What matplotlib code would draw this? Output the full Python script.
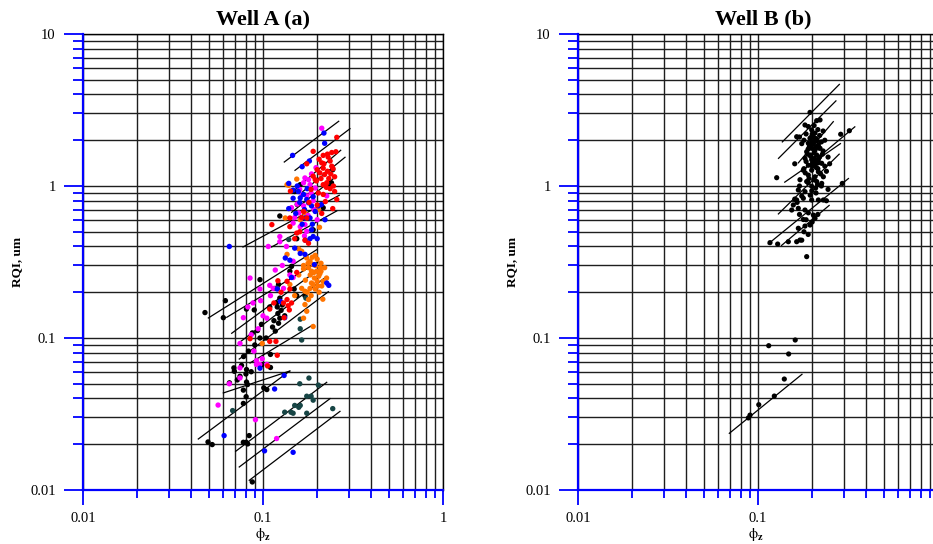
import numpy as np
import matplotlib
matplotlib.use("Agg")
import matplotlib.pyplot as plt
from matplotlib.ticker import LogLocator, NullFormatter, FixedLocator, FixedFormatter

plt.rcParams['font.family'] = ['Liberation Serif', 'DejaVu Serif']
plt.rcParams['mathtext.fontset'] = 'stix'

# ---------------- Well A data (phi_z, RQI) per group ----------------
a_red_phi = [0.257,0.190,0.216,0.228,0.241,0.254,0.175,0.212,0.236,0.241,0.216,0.228,0.207,0.220,0.190,0.216,0.226,0.246,0.236,0.142,0.203,0.216,0.257,0.244,0.168,0.164,0.175,0.141,0.112,0.141,0.154,
             0.200,0.232,0.198,0.250,0.222,0.171,0.179,0.154,0.121,0.136,0.141,0.144,0.138,0.109,0.136,0.130,0.131,0.140,0.0847,0.109,0.118,0.120,0.106,
             0.205,0.230,0.245,0.218,0.195,0.210,0.238,0.225,0.185,0.200,0.250,0.212,0.180,0.160,0.150,0.126,0.115]
a_red_rqi = [2.09,1.69,1.59,1.62,1.66,1.68,1.40,1.42,1.46,1.35,1.31,1.25,1.22,1.19,1.16,1.02,1.05,1.00,0.96,0.925,0.90,0.88,0.815,0.71,0.68,0.62,0.616,0.616,0.557,0.54,0.49,
             1.28,1.12,1.08,1.15,0.79,0.44,0.42,0.27,0.238,0.236,0.21,0.170,0.163,0.155,0.179,0.170,0.136,0.153,0.099,0.095,0.095,0.077,0.0655,
             1.50,1.55,1.30,1.40,1.10,1.12,1.20,0.98,0.95,0.75,0.92,0.66,0.78,0.50,0.45,0.20,0.17]

a_mag_phi = [0.212,0.197,0.171,0.179,0.168,0.1825,0.195,0.226,0.168,0.144,0.158,0.147,0.161,0.171,0.175,0.124,0.186,0.160,0.175,0.190,0.200,0.150,
             0.107,0.124,0.147,0.117,0.141,0.147,0.0847,0.0962,0.109,0.114,0.130,0.097,0.088,0.0824,0.0778,0.100,0.105,0.0745,0.089,0.099,0.092,
             0.0745,0.092,0.096,0.105,0.0745,0.065,0.0563,0.0908,0.119,
             0.185,0.165,0.155,0.178,0.192,0.170,0.135,0.128,0.110,0.094,0.086]
a_mag_rqi = [2.40,1.32,1.13,1.10,1.05,1.02,0.97,0.86,0.74,0.72,0.665,0.57,0.54,0.557,0.503,0.465,1.20,0.95,0.86,0.80,0.60,0.62,
             0.40,0.43,0.32,0.28,0.26,0.25,0.248,0.21,0.222,0.212,0.212,0.176,0.17,0.16,0.136,0.14,0.135,0.092,0.082,0.073,0.071,
             0.0636,0.067,0.067,0.067,0.0546,0.050,0.0362,0.029,0.0218,
             0.90,0.88,0.76,0.64,0.70,0.47,0.40,0.30,0.19,0.115,0.105]

a_blue_phi = [0.218,0.220,0.146,0.181,0.165,0.139,0.147,0.157,0.147,0.161,0.175,0.179,0.186,0.211,0.203,0.139,0.171,0.1825,0.221,0.186,0.190,0.170,0.195,0.160,0.200,
              0.065,0.1825,0.133,0.141,0.161,0.171,0.193,0.226,0.232,0.144,0.125,0.132,0.120,
              0.0962,0.131,0.116,0.0608,0.102,0.147,
              0.155,0.168,0.176,0.190,0.152,0.165,0.188,0.172,0.150]
a_blue_rqi = [2.23,1.91,1.59,1.46,1.34,1.04,0.94,0.92,0.83,0.835,0.815,0.775,0.74,0.755,0.74,0.71,0.616,0.616,0.60,0.515,0.465,0.70,0.68,0.78,0.45,
              0.40,0.45,0.336,0.325,0.36,0.355,0.304,0.23,0.222,0.25,0.174,0.136,0.21,
              0.0633,0.0567,0.0462,0.0228,0.0181,0.0177,
              1.00,0.88,0.96,0.85,0.66,0.56,0.56,0.44,0.39]

a_orange_phi = [0.154,0.139,0.203,0.161,0.171,0.133,0.206,0.136,
                0.136,0.158,0.164,0.175,0.1825,0.190,0.179,0.168,0.186,0.1987,0.207,0.210,0.193,0.200,0.190,0.1825,0.171,0.164,0.2155,0.2255,0.141,0.179,0.171,0.175,0.168,0.099,
                0.200,0.210,0.220,0.195,0.185,0.205,0.215,0.190,
                0.178,0.188,0.196,0.204,0.212,0.183,0.172,0.192,0.202,0.168,0.158,0.150,0.176,0.186,0.195,0.208]
a_orange_rqi = [1.11,1.01,0.70,0.60,0.665,0.616,0.535,1.02,
                0.355,0.385,0.372,0.336,0.32,0.304,0.29,0.285,0.275,0.275,0.265,0.275,0.248,0.236,0.225,0.212,0.203,0.212,0.236,0.248,0.225,0.179,0.166,0.150,0.135,0.092,
                0.33,0.31,0.29,0.35,0.19,0.20,0.18,0.119,
                0.31,0.34,0.30,0.255,0.22,0.26,0.24,0.27,0.22,0.30,0.26,0.19,0.20,0.23,0.21,0.29]

a_black_phi = [0.244,0.161,0.231,0.155,0.216,0.124,0.190,0.150,0.240,
               0.154,0.141,0.144,0.0962,0.122,0.117,0.149,0.154,0.171,0.0618,0.124,0.119,0.109,0.120,0.126,0.121,0.124,0.0476,0.0602,0.0809,0.0894,0.098,0.117,0.104,0.0962,0.0873,0.0932,0.083,0.078,0.110,
               0.0689,0.0693,0.0984,0.081,0.0804,0.0745,0.072,0.0651,0.081,0.082,0.0778,0.0806,0.0778,0.101,0.105,0.110,0.0838,0.0495,0.0522,0.0778,0.0806,0.0822,0.0872,
               0.128,0.132,0.115,0.122,0.113,0.090,0.076,0.086]
a_black_rqi = [1.28,1.02,0.99,0.755,0.72,0.635,0.515,0.92,1.05,
               0.45,0.275,0.296,0.242,0.225,0.212,0.21,0.19,0.19,0.176,0.183,0.17,0.16,0.16,0.152,0.145,0.135,0.147,0.136,0.155,0.153,0.123,0.111,0.100,0.100,0.108,0.112,0.082,0.0755,0.078,
               0.0636,0.0604,0.0665,0.062,0.058,0.056,0.053,0.0507,0.0513,0.0494,0.0454,0.0411,0.0371,0.047,0.0458,0.064,0.0228,0.0207,0.0199,0.0206,0.0206,0.0201,0.0113,
               0.165,0.14,0.13,0.125,0.118,0.09,0.066,0.060]

a_teal_phi = [0.119,0.173,0.161,0.161,0.164,0.139,0.120,
              0.180,0.160,0.203,0.175,0.185,0.190,0.150,0.161,0.158,0.143,0.147,0.132,0.175,0.244,0.0678]
a_teal_rqi = [0.212,0.183,0.133,0.115,0.097,0.445,0.212,
              0.0545,0.050,0.049,0.0414,0.0414,0.039,0.036,0.036,0.035,0.0325,0.032,0.0325,0.032,0.0343,0.0333]

# FZI lines, Well A (start phi, start RQI, end phi, end RQI)
a_line_phi0 = [0.1313,0.1506,0.1526,0.1626,0.1443,0.0774,0.1117,0.0497,0.0629,0.0670,0.0745,0.0738,0.0847,0.0602,0.0437,0.0705,0.0738,0.0839]
a_line_rqi0 = [1.438,1.268,0.960,0.899,0.671,0.397,0.397,0.1354,0.1368,0.1074,0.0941,0.0727,0.0685,0.0435,0.02165,0.01797,0.01417,0.01158]
a_line_phi1 = [0.2634,0.3043,0.2702,0.2855,0.2512,0.2653,0.2567,0.1987,0.2021,0.2128,0.2239,0.2306,0.1903,0.1413,0.1400,0.2259,0.2356,0.2677]
a_line_rqi1 = [2.666,2.382,1.718,1.545,1.141,0.869,0.685,0.381,0.3162,0.2933,0.252,0.2015,0.1224,0.0607,0.0604,0.0511,0.0399,0.0329]

# ---------------- Well B data ----------------
b_phi = [0.1945,0.1824,0.1904,0.2118,0.2211,0.1987,0.2074,0.2030,0.1945,0.2118,0.1904,0.2030,0.2164,0.1987,0.2074,0.1864,0.2211,0.1945,0.2118,0.1824,
         0.1987,0.2164,0.1904,0.2074,0.2259,0.1786,0.1987,0.2164,0.1904,0.2074,0.2307,0.1711,0.1864,0.2118,0.1675,0.1824,0.1987,0.2259,0.1640,0.1786,
         0.1987,0.2164,0.2307,0.1571,0.1675,0.1824,0.1904,0.2030,0.1539,0.1786,0.2074,0.1675,0.1824,0.1945,0.1166,0.1286,0.1474,0.1640,0.1711,0.1864,
         0.127,0.288,0.3217,0.294,0.164,
         0.205,0.215,0.200,0.220,0.210,0.225,0.200,0.195,0.210,0.230,0.190,0.205,0.220,0.185,0.210,0.235,0.200,0.180,0.215,0.240,
         0.190,0.225,0.170,0.245,0.210,0.175,0.195,0.240,0.160,0.165,0.170,0.185,0.200,0.215,0.180,0.190,0.175,0.160,0.180,0.175,
         0.185,0.170,0.230,0.235,0.245,0.250,
         0.198,0.208,0.213,0.203,0.193,0.218,0.188,0.228,0.196,0.206,0.216,0.201,0.211,0.183,0.223,0.192,0.204,0.214,0.199,0.209,
         0.1147,0.161,0.148,0.140,0.1232,0.101,0.0903,0.0884]
b_rqi = [3.05,2.52,2.46,2.69,2.72,2.34,2.23,2.11,2.06,2.01,1.91,1.91,1.86,1.77,1.72,1.68,1.77,1.60,1.60,1.52,
         1.49,1.49,1.37,1.37,1.41,1.27,1.27,1.24,1.18,1.15,1.15,1.10,1.07,1.07,0.941,0.918,0.996,1.04,0.809,0.83,
         0.809,0.809,0.809,0.75,0.713,0.695,0.666,0.644,0.695,0.602,0.613,0.527,0.545,0.554,0.424,0.415,0.43,0.43,0.441,0.343,
         1.134,2.19,2.31,1.04,2.11,
         2.50,2.35,2.20,2.15,2.05,1.95,1.95,1.85,1.80,1.70,1.75,1.65,1.55,1.45,1.45,1.35,1.35,1.30,1.30,1.25,
         1.05,1.00,1.00,0.95,0.90,0.86,0.87,0.80,0.82,0.78,0.65,0.60,0.58,0.65,0.50,0.48,0.44,1.40,2.00,1.90,
         2.20,2.10,2.30,2.00,1.55,1.40,
         2.10,2.05,1.98,1.88,1.82,1.78,1.62,1.62,1.57,1.52,1.42,1.42,1.32,1.22,1.20,1.12,1.10,1.02,0.93,0.97,
         0.089,0.097,0.0785,0.0537,0.0415,0.0364,0.0311,0.0298]

b_line_phi0 = [0.1365,0.130,0.1675,0.175,0.1408,0.1298,0.114,0.135,0.0693]
b_line_rqi0 = [1.95,1.52,1.42,1.25,1.06,0.655,0.416,0.406,0.0236]
b_line_phi1 = [0.283,0.271,0.262,0.345,0.287,0.2825,0.318,0.2485,0.1755]
b_line_rqi1 = [4.66,3.63,2.65,2.45,1.90,1.62,1.12,0.745,0.0577]

W, H = 933, 544
fig = plt.figure(figsize=(W/100, H/100), dpi=100)

def style(ax, xmax):
    ax.set_xscale('log'); ax.set_yscale('log')
    ax.set_xlim(0.01, xmax); ax.set_ylim(0.01, 10)
    ax.xaxis.set_major_locator(FixedLocator([0.01, 0.1, 1]))
    ax.xaxis.set_major_formatter(FixedFormatter(['0.01', '0.1', '1']))
    ax.yaxis.set_major_locator(FixedLocator([0.01, 0.1, 1, 10]))
    ax.yaxis.set_major_formatter(FixedFormatter(['0.01', '0.1', '1', '10']))
    ax.xaxis.set_minor_locator(LogLocator(base=10, subs=np.arange(2, 10)))
    ax.yaxis.set_minor_locator(LogLocator(base=10, subs=np.arange(2, 10)))
    ax.xaxis.set_minor_formatter(NullFormatter()); ax.yaxis.set_minor_formatter(NullFormatter())
    ax.grid(True, which='both', color='#1e1e1e', lw=1.0, zorder=0)
    ax.set_axisbelow(True)
    for s in ['left', 'bottom']:
        ax.spines[s].set_color('#0000ff'); ax.spines[s].set_linewidth(1.6); ax.spines[s].set_zorder(5)
    ax.spines['top'].set_color('black'); ax.spines['top'].set_linewidth(1.0)
    ax.spines['right'].set_color('black'); ax.spines['right'].set_linewidth(1.0)
    ax.tick_params(axis='x', which='major', direction='out', length=10.8, width=1.3, color='#0000ff', pad=5, labelsize=10.5)
    ax.tick_params(axis='x', which='minor', direction='out', length=5.8, width=1.3, color='#0000ff')
    ax.tick_params(axis='y', which='major', direction='out', length=13.7, width=1.3, color='#0000ff', pad=6, labelsize=10.5)
    ax.tick_params(axis='y', which='minor', direction='out', length=7.2, width=1.3, color='#0000ff')
    ax.set_ylabel('RQI, um', fontsize=9.5, fontweight='bold')
    ax.set_xlabel(r'$\mathrm{ϕ}_\mathbf{z}$', fontsize=10.5, labelpad=1.0)

# Left panel
ax1 = fig.add_axes([83/W, 1-490/H, 360/W, 456/H])
style(ax1, 1.0)
for p0, r0, p1, r1 in zip(a_line_phi0, a_line_rqi0, a_line_phi1, a_line_rqi1):
    ax1.plot([p0, p1], [r0, r1], color='black', lw=0.9, zorder=3)
groups = [(a_black_phi, a_black_rqi, '#000000'), (a_teal_phi, a_teal_rqi, '#174545'),
          (a_orange_phi, a_orange_rqi, '#ff7400'), (a_mag_phi, a_mag_rqi, '#ff00ff'),
          (a_blue_phi, a_blue_rqi, '#0000ff'), (a_red_phi, a_red_rqi, '#ff0000')]
for ph, rq, c in groups:
    ax1.scatter(ph, rq, s=15, color=c, edgecolors='none', zorder=4)
ax1.set_title('Well A (a)', fontsize=16, fontweight='bold', pad=7)
ax1.yaxis.set_label_coords(-60/360, 0.5)

# Right panel
xmax_b = 10**(-2 + 355/180)
ax2 = fig.add_axes([578/W, 1-490/H, 355/W, 456/H])
style(ax2, xmax_b)
ax2.spines['right'].set_visible(False)
for p0, r0, p1, r1 in zip(b_line_phi0, b_line_rqi0, b_line_phi1, b_line_rqi1):
    ax2.plot([p0, p1], [r0, r1], color='black', lw=0.9, zorder=3)
ax2.scatter(b_phi, b_rqi, s=14, color='black', edgecolors='none', zorder=4)
ax2.set_title('Well B (b)', fontsize=16, fontweight='bold', pad=7, x=(763-578)/355)
ax2.yaxis.set_label_coords(-60/355, 0.5)

fig.savefig('out.png', dpi=100)
